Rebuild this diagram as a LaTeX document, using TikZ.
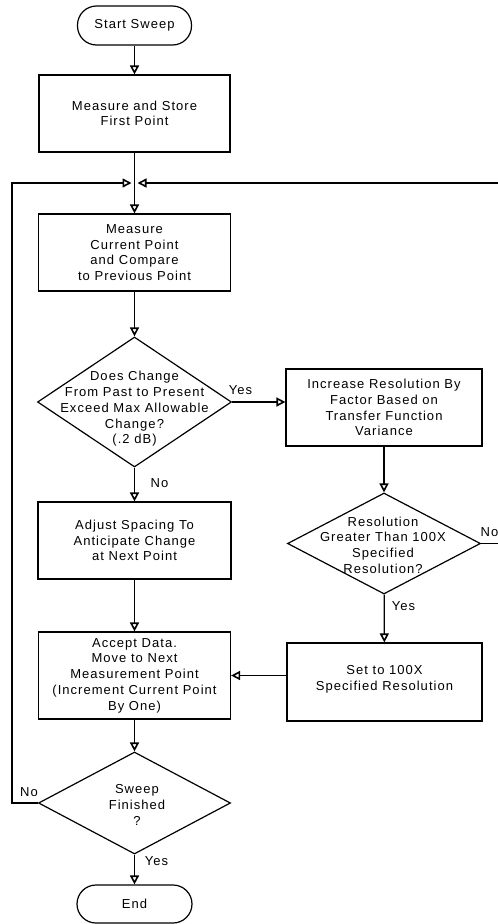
\documentclass[tikz,border=0pt]{standalone}
\usepackage{fontspec}
\newfontfamily\fc{Liberation Sans}[LetterSpace=8]
\usetikzlibrary{arrows.meta,shapes.geometric}
\begin{document}
\begin{tikzpicture}[x=1pt,y=-1pt,line width=1.2pt,
  every node/.style={font=\fc\fontsize{13}{15.7}\selectfont,align=center,inner sep=0pt},
  box/.style={draw,rectangle},
  term/.style={draw,rectangle,rounded corners=19pt},
  dia/.style={draw,diamond,inner sep=0pt},
  arr/.style={-{Triangle[open,length=9pt,width=9pt,line width=1.6pt]}}]
\useasboundingbox (0,0) rectangle (498,924);
% main column
\node[term,minimum width=114pt,minimum height=39pt] (start) at (134.5,25.5) {Start Sweep};
\node[box,minimum width=191pt,minimum height=77pt] (m1) at (134.5,113.5) {Measure and Store\\First Point};
\coordinate (j) at (134.5,183);
\node[box,minimum width=192pt,minimum height=77pt] (m2) at (134.5,252.5) {Measure\\Current Point\\and Compare\\to Previous Point};
\node[dia,minimum width=194pt,minimum height=130pt] (d1) at (134.5,402) {};
\node (d1t) at (134.5,409) {Does Change\\From Past to Present\\Exceed Max Allowable\\Change?\\(.2 dB)};
\node[box,minimum width=193pt,minimum height=77pt] (adj) at (134.5,540.5) {Adjust Spacing To\\Anticipate Change\\at Next Point};
\node[box,minimum width=192pt,minimum height=87pt] (acc) at (134.5,675.5) {Accept Data.\\Move to Next\\Measurement Point\\(Increment Current Point\\By One)};
\node[dia,minimum width=192pt,minimum height=102pt] (d3) at (134.5,803) {};
\node (d3t) at (137,805) {Sweep\\Finished\\?};
\node[term,minimum width=115pt,minimum height=38pt] (end) at (134.5,904) {End};
% right column
\node[box,minimum width=196pt,minimum height=77pt] (inc) at (384,407.5) {Increase Resolution By\\Factor Based on\\Transfer Function\\Variance};
\node[dia,minimum width=193pt,minimum height=101pt] (d2) at (384,543.5) {};
\node (d2t) at (383,545) {Resolution\\Greater Than 100X\\Specified\\Resolution?};
\node[box,minimum width=195pt,minimum height=78pt] (set) at (384.5,682) {};
\node (sett) at (384.5,679) {Set to 100X\\Specified Resolution};
% loop coordinates
\coordinate (lc) at (12,183);
\coordinate (rc) at (504,183);
% connectors
\draw[arr] (start) -- (m1);
\draw[arr] (m1) -- (m2);
\draw[arr] (m2) -- (d1);
\draw[arr] (d1) -- (adj);
\draw[arr] (adj) -- (acc);
\draw[arr] (acc) -- (d3);
\draw[arr] (d3) -- (end);
\draw[arr] (d1.east) -- (d1.east -| inc.west);
\draw[arr] (inc) -- (d2);
\draw[arr] (d2) -- (set);
\draw[arr] (set.west |- acc.east) -- (acc.east);
\draw[arr,shorten >=3pt] (d3.west) -- (d3.west -| lc) -- (lc) -- (j);
\draw[arr,shorten >=3pt] (d2.east) -- (d2.east -| rc) -- (rc) -- (j);
% labels
\node (y1) at (240.5,390) {Yes};
\node (n1) at (159.5,483) {No};
\node[anchor=west] (n2) at (480,532) {No};
\node (y2) at (403.5,606) {Yes};
\node (n3) at (29,792) {No};
\node (y3) at (156.5,861) {Yes};
\end{tikzpicture}
\end{document}
